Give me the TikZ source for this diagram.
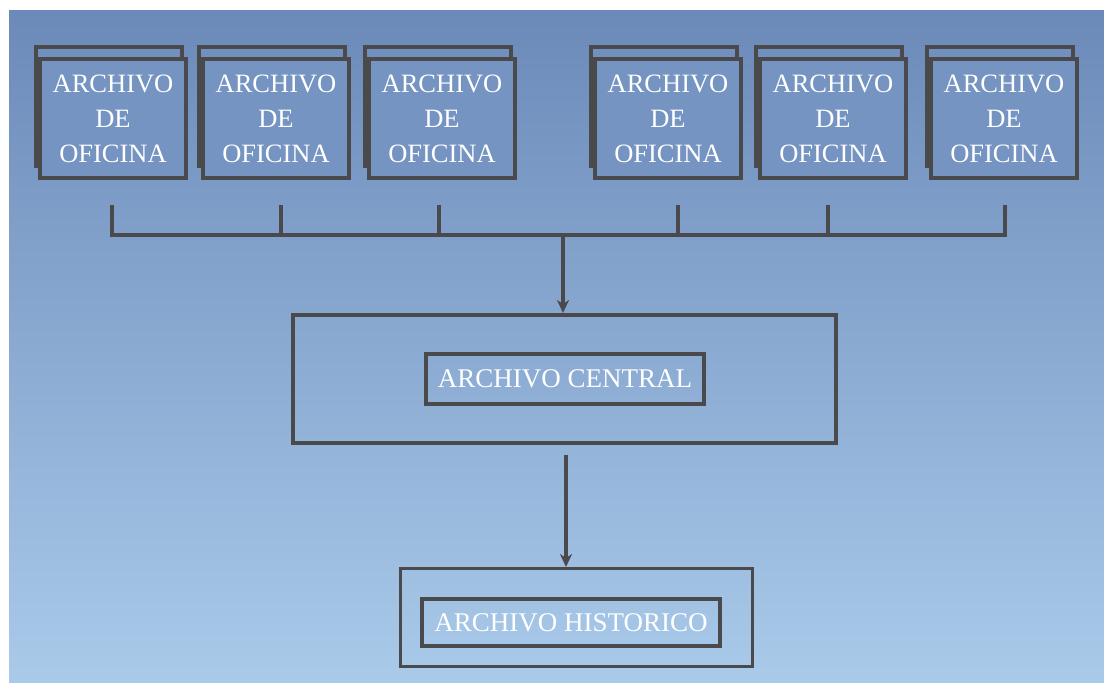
\documentclass[tikz,border=0pt]{standalone}
\usepackage{fontspec}
\setmainfont{Liberation Serif}
\usepackage{tikz}
\usetikzlibrary{positioning, arrows.meta}
\definecolor{SkyTop}{RGB}{107,138,185}
\definecolor{SkyBottom}{RGB}{170,202,234}
\definecolor{FrameGrey}{RGB}{74,74,76}
\tikzset{
  frame/.style={draw=FrameGrey, line width=4bp},
  officebox/.style={frame, fill=SkyTop!84!SkyBottom, minimum width=146bp, minimum height=119bp,
    inner sep=0pt, align=center, font=\fontsize{26.5bp}{35bp}\selectfont, text=white},
  backframe/.style={frame, fill=SkyTop!90!SkyBottom, minimum width=146bp, minimum height=119bp, inner sep=0pt},
  labelbox/.style={frame, inner sep=0pt, font=\fontsize{27bp}{32bp}\selectfont, text=white},
  link/.style={FrameGrey, line width=4bp},
  flow/.style={link, -{Stealth[length=13bp, width=12bp, inset=4bp]}},
}

\begin{document}
\begin{tikzpicture}[x=1bp, y=-1bp]
  \useasboundingbox (0,0) rectangle (1104,683);
  \fill[top color=SkyTop, bottom color=SkyBottom] (9,11) rectangle (1104,683);
  \foreach \i/\x in {1/113,2/276,3/442,4/668,5/833,6/1004} {
    \node[backframe] (bk\i) at ({\x-4},106.5) {};
    \node[officebox] (of\i) at (\x,118.5) {ARCHIVO\\DE\\OFICINA};
  }
  \foreach \i/\x in {1/112,2/281,3/439,4/678,5/828,6/1005} {
    \coordinate (t\i) at (\x,205);
    \coordinate (b\i) at (\x,235);
  }
  \draw[link] (t1) -- (b1) -- (b6) -- (t6);
  \foreach \i in {2,...,5} \draw[link] (t\i) -- (b\i);
  \node[frame, minimum width=543bp, minimum height=128bp] (central) at (564.5,379) {};
  \node[labelbox, minimum width=278bp, minimum height=50bp] (centrallabel) at (565,379) {ARCHIVO CENTRAL};
  \coordinate (join) at (563,235);
  \draw[flow] (join) -- (join |- central.north);
  \node[frame, line width=3bp, minimum width=352bp, minimum height=98bp] (hist) at (576.5,617.5) {};
  \node[labelbox, minimum width=298bp, minimum height=47bp] (histlabel) at (571,622.5) {ARCHIVO HISTORICO};
  \coordinate (drop) at (566,455);
  \draw[flow] (drop) -- (drop |- hist.north);
\end{tikzpicture}
\end{document}
